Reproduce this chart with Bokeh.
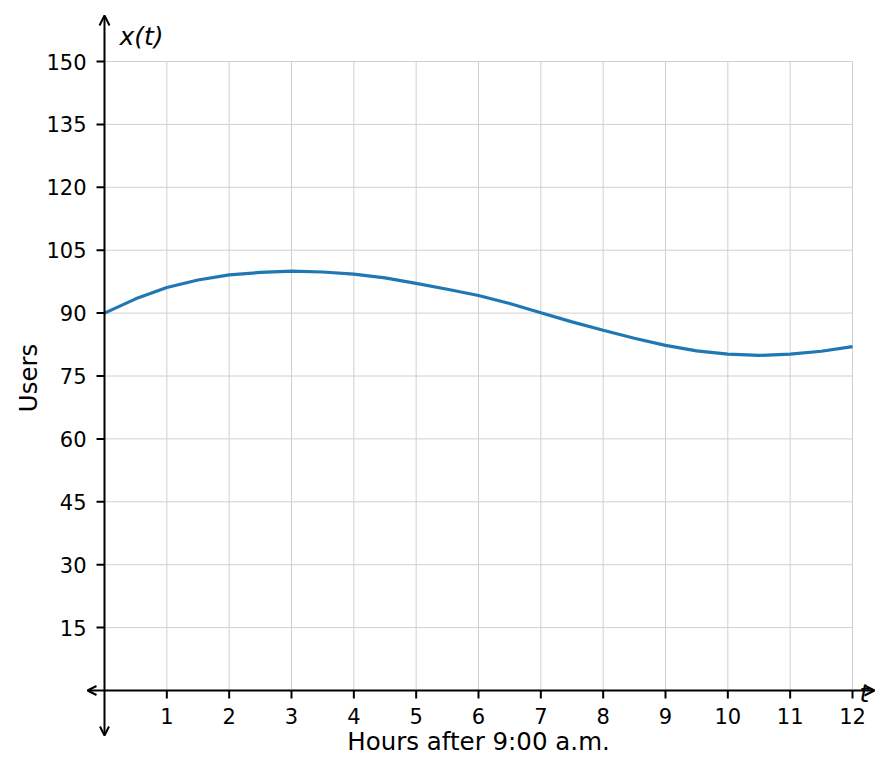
import math
from bokeh.plotting import figure
from bokeh.models import Range1d, Arrow, OpenHead
from bokeh.core.properties import value
from bokeh.embed import file_html
from bokeh.resources import INLINE

# values
hours = [0, 0.5, 1, 1.5, 2, 2.5, 3, 3.5, 4, 4.5, 5, 5.5, 6,
         6.5, 7, 7.5, 8, 8.5, 9, 9.5, 10, 10.5, 11, 11.5, 12]
users = [90.0, 93.4, 96.1, 97.9, 99.1, 99.7, 100.0, 99.8, 99.3, 98.4,
         97.1, 95.7, 94.2, 92.3, 90.1, 87.9, 85.9, 84.0, 82.3, 81.0,
         80.2, 79.9, 80.2, 80.9, 82.0]

x_ticks = [1, 2, 3, 4, 5, 6, 7, 8, 9, 10, 11, 12]
y_ticks = [15, 30, 45, 60, 75, 90, 105, 120, 135, 150]
x_labels = [str(t) for t in x_ticks]
y_labels = [str(t) for t in y_ticks]
X_MAX, Y_MAX = 12, 150

W, H = 876, 755
# pixel geometry of the plotting area inside the canvas
X0_PX, X12_PX = 104, 852
Y0_PX, Y150_PX = 690, 61
PX_X = (X12_PX - X0_PX) / float(X_MAX)
PX_Y = (Y0_PX - Y150_PX) / float(Y_MAX)

FONT = value("DejaVu Sans")
GRID = "#d0d0d0"
TICK_PX = 8

p = figure(width=W, height=H, output_backend="svg", toolbar_location=None,
           x_axis_type=None, y_axis_type=None,
           x_range=Range1d(-X0_PX / PX_X, X_MAX + (W - X12_PX) / PX_X),
           y_range=Range1d(-(H - Y0_PX) / PX_Y, Y_MAX + Y150_PX / PX_Y))
p.min_border = 0
p.outline_line_color = None
p.background_fill_color = "white"
p.border_fill_color = "white"

# grid, limited to the first quadrant
p.segment(x0=x_ticks, x1=x_ticks, y0=0, y1=Y_MAX,
          line_color=GRID, line_width=1)
p.segment(x0=0, x1=X_MAX, y0=y_ticks, y1=y_ticks,
          line_color=GRID, line_width=1)

# axes with arrows at both ends
p.add_layout(Arrow(x_start=-17 / PX_X, y_start=0,
                   x_end=X_MAX + 22 / PX_X, y_end=0,
                   line_color="black", line_width=2,
                   start=OpenHead(size=9, line_width=2, line_color="black"),
                   end=OpenHead(size=10, line_width=2, line_color="black")))
p.add_layout(Arrow(x_start=0, y_start=-45 / PX_Y,
                   x_end=0, y_end=Y_MAX + 46 / PX_Y,
                   line_color="black", line_width=2,
                   start=OpenHead(size=9, line_width=2, line_color="black"),
                   end=OpenHead(size=10, line_width=2, line_color="black")))

# tick marks
p.segment(x0=x_ticks, x1=x_ticks, y0=0, y1=-TICK_PX / PX_Y,
          line_color="black", line_width=2)
p.segment(x0=0, x1=-TICK_PX / PX_X, y0=y_ticks, y1=y_ticks,
          line_color="black", line_width=2)

# tick labels
p.text(x=x_ticks, y=[0] * len(x_ticks), text=x_labels,
       text_font=FONT, text_font_size="21px", text_color="black",
       text_align="center", text_baseline="middle", y_offset=25)
p.text(x=[0] * len(y_ticks), y=y_ticks, text=y_labels,
       text_font=FONT, text_font_size="21px", text_color="black",
       text_align="right", text_baseline="middle", x_offset=-18)

# curve
p.line(hours, users, line_color="#1f77b4", line_width=3.2)

# axis names
p.text(x=[6], y=[0], text=["Hours after 9:00 a.m."], text_font=FONT,
       text_font_size="24.5px", text_color="black", text_align="center",
       text_baseline="middle", y_offset=51)
p.text(x=[0], y=[75], text=["Users"], text_font=FONT,
       text_font_size="24.5px", text_color="black", text_align="center",
       text_baseline="middle", angle=math.pi / 2, x_offset=-76, y_offset=2)
p.text(x=[0], y=[Y_MAX], text=["x(t)"], text_font=FONT,
       text_font_size="25px", text_font_style="italic", text_color="black",
       text_align="left", text_baseline="middle",
       x_offset=15, y_offset=-25)
p.text(x=[X_MAX], y=[0], text=["t"], text_font=FONT,
       text_font_size="25px", text_font_style="italic", text_color="black",
       text_align="left", text_baseline="middle",
       x_offset=7, y_offset=3)

open("out.html", "w").write(file_html(p, INLINE))
